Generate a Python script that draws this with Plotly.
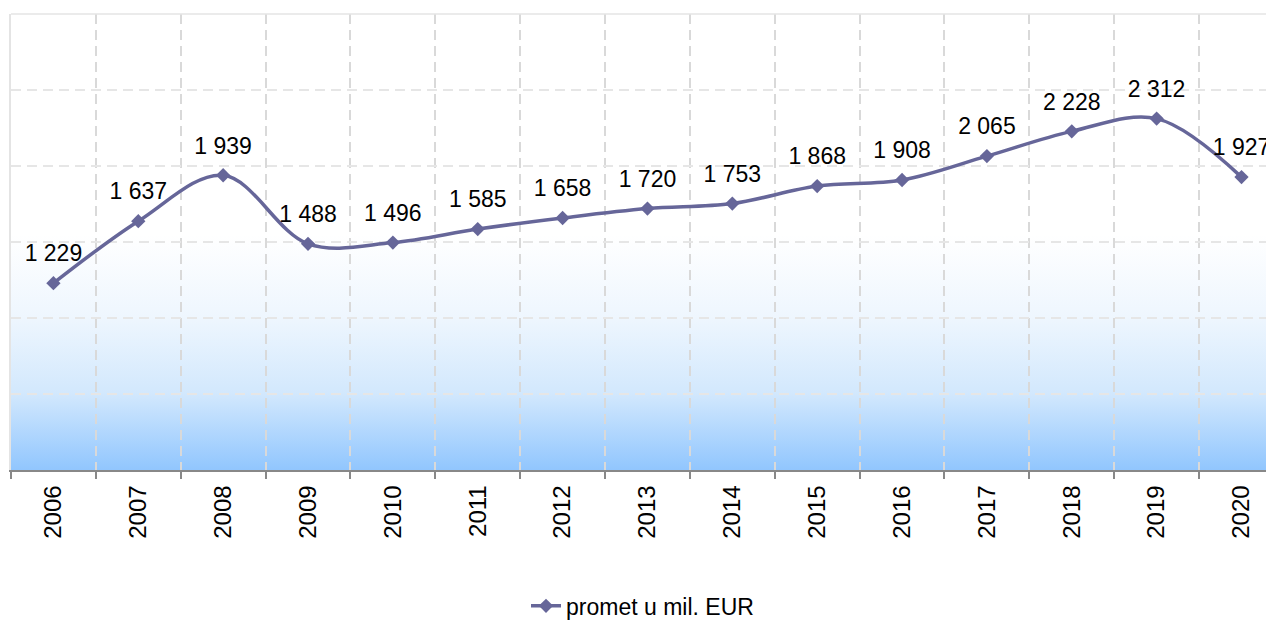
import base64
import plotly.graph_objects as go

years = ["2006", "2007", "2008", "2009", "2010", "2011", "2012", "2013",
         "2014", "2015", "2016", "2017", "2018", "2019", "2020"]
promet = [1229, 1637, 1939, 1488, 1496, 1585, 1658, 1720, 1753, 1868,
          1908, 2065, 2228, 2312, 1927]
series_name = "promet u mil. EUR"

labels = [f"{v:,}".replace(",", " ") for v in promet]

LINE_COLOR = "#666699"
FONT = "Liberation Sans, Arial, sans-serif"
Y_MAX = 3000
GRAD_TOP = 1550  # style: top of the decorative background gradient (axis units)

# decorative vertical gradient (white at top -> light blue at bottom)
svg = (
    '<svg xmlns="http://www.w3.org/2000/svg" width="100" height="100" '
    'viewBox="0 0 100 100" preserveAspectRatio="none">'
    '<defs><linearGradient id="g" x1="0" y1="0" x2="0" y2="1">'
    '<stop offset="0" stop-color="#ffffff"/>'
    '<stop offset="0.355" stop-color="#eef6fe"/>'
    '<stop offset="0.677" stop-color="#d2e8fd"/>'
    '<stop offset="1" stop-color="#91c6fe"/>'
    '</linearGradient></defs>'
    '<rect x="0" y="0" width="100" height="100" fill="url(#g)"/></svg>'
)
svg_uri = "data:image/svg+xml;base64," + base64.b64encode(svg.encode()).decode()

fig = go.Figure()

fig.add_trace(go.Scatter(
    x=years, y=promet,
    mode="lines+markers", name=series_name,
    line=dict(color=LINE_COLOR, width=3.5, shape="spline", smoothing=1),
    marker=dict(symbol="diamond", size=11, color=LINE_COLOR),
))

# data labels: invisible larger markers push the text further above the points
fig.add_trace(go.Scatter(
    x=years, y=promet, mode="markers+text", text=labels,
    textposition="top center",
    textfont=dict(family=FONT, size=23, color="#000000"),
    marker=dict(size=24, color="rgba(0,0,0,0)"),
    showlegend=False, hoverinfo="skip", cliponaxis=False,
))

fig.add_layout_image(dict(
    source=svg_uri, xref="paper", yref="paper",
    x=0, y=GRAD_TOP / Y_MAX, sizex=1, sizey=GRAD_TOP / Y_MAX,
    xanchor="left", yanchor="top", sizing="stretch", layer="below",
))

# top border line of the plot area
fig.add_shape(type="line", xref="paper", yref="paper", x0=0, x1=1, y0=1, y1=1,
              line=dict(color="#e4e4e4", width=1.5))

n = len(years)
fig.update_layout(
    width=1266, height=612,
    margin=dict(l=3, r=0, t=6, b=150, autoexpand=False),
    paper_bgcolor="white", plot_bgcolor="rgba(0,0,0,0)",
    font=dict(family=FONT, color="#000000"),
    xaxis=dict(type="category", range=[-0.5, n - 0.617],
               tickson="boundaries", ticks="outside", ticklen=7,
               tickcolor="#888888", tickwidth=1.5,
               showline=True, linecolor="#888888", linewidth=1.5,
               showgrid=True, gridcolor="#d9d9d9", gridwidth=1.5,
               griddash="10px,6px", ticklabelstandoff=4,
               tickangle=-90, tickfont=dict(family=FONT, size=24)),
    yaxis=dict(range=[0, Y_MAX], dtick=500,
               showticklabels=False, ticks="", zeroline=False,
               showline=True, linecolor="#e4e4e4", linewidth=1.5,
               showgrid=True, gridcolor="#e6e6e6", gridwidth=1.5,
               griddash="10px,6px"),
    showlegend=True,
    legend=dict(orientation="h", x=0.5, xanchor="center", y=-0.298,
                yanchor="middle", font=dict(family=FONT, size=23),
                bgcolor="rgba(0,0,0,0)"),
)

fig.write_html("out.html")
